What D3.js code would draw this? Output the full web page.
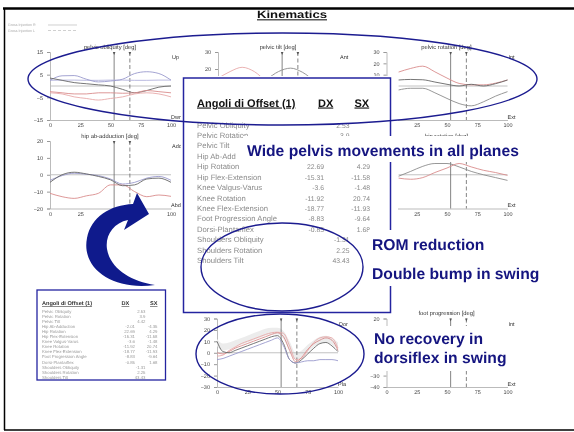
<!DOCTYPE html>
<html><head><meta charset="utf-8">
<script src="https://cdn.jsdelivr.net/npm/d3@7"></script>
<style>
html,body{margin:0;padding:0;background:#fff;}
svg{display:block;font-family:"Liberation Sans",Arial,Helvetica,sans-serif;will-change:transform;opacity:0.999;text-rendering:geometricPrecision;}
</style></head><body>
<svg id="slide" width="574" height="432"></svg>
<script>
// ---- gait cycle sample points (% of cycle) ----
const cycle = [0,10,20,30,40,50,60,70,80,90,100];
const cycleLate = [10,20,30,40,50,60,70,80,90,100];
const ankleCycle = [0,5,10,15,20,25,30,35,40,45,50,55,60,65,70,75,80,85,90,95,100];
const xTicks = [0,25,50,75,100];
const xTicksRight = [25,50,75,100];
const gaitEvents = [53, 66];

// pelvic obliquity [deg]
const obliqBlue = [2.5,4.5,4.6,3,1.8,2.2,3,5.5,6.3,5.5,2.6];
const obliqFlat = [2.5,2.6,2.6,2.5,2.5,2.6,2.6,2.5,2.5,2.6,2.6];
const obliqDark = [3.5,2.5,1.5,1,0.5,0,-1.5,-3,-2,-0.5,0];
const obliqRed  = [-2.5,-3,-3.5,-3.5,-3,-3,-3.2,-3,-2,-2.5,-3];
const obliqPink = [-3,-3.5,-4.8,-5.5,-6.2,-5.5,-4.8,-3.5,-3,-3.5,-4.8];
const obliqTicks = [15,5,-5,-15];

// pelvic tilt [deg]
const tiltRed  = [14.5,18.5,21,18.5,13,11,10,11,12,13,14];
const tiltGrey = [8,7,9,11,14,18.5,20.5,18,13,10,9];
const tiltTicks = [30,20];

// pelvic rotation [deg]
const rotRed  = [12.3,15.5,17.5,12.5,7,2.3,1,1,2.5,5.3];
const rotDark = [5.3,5.8,5.5,3.5,1.5,0,1.5,0,2,5.3];
const rotLow  = [-3.5,-2,-2,-6,-11,-15.5,-17.5,-14,-9,-5];
const rotTicks = [30,20,10];

// hip ab-adduction [deg]
const abdRed  = [-11,-13,-14,-12.5,-11,-6,-6,-10,-13,-12,-12.8];
const abdBlue = [-3.3,-0.5,0.9,0.3,-0.5,-2.5,-5.5,-4.5,-2,-1,-3.3];
const abdDark = [-4.5,0,1.5,0.5,-1,-3,-6.5,-6,-2.5,-2,-4.5];
const abdTicks = [20,10,0,-10,-20];

// hip rotation [deg]
const hipRotGrey = [-1.3,3,7.5,10,10,7,3,0,-2.5,-5];
const hipRotRed  = [-3,-4,-2.5,2,6,10,7,4,2,-0.5];

// dorsi-plantarflex [deg]
const ankleBandHi = [12,8,9,11,13,15,17,19,21,22,22,19,10,0,2,7,11,14,15,13,9];
const ankleBandLo = [6,2,3,5,7,9,11,13,15,16,16,12,2,-6,-4,1,5,8,9,7,3];
const ankleRedA = [0,-1,1,4,6,8,10,12,14,16,17.5,14,2,-8,-4,3,8,11,13,11,2];
const ankleRedB = [-3,-2,2,5,8,10,12,14,16,17.5,18,17,6,-6,-5,2,9,13,14,13,4];
const ankleDark = [10,1,0,2,4,6,8,10,12,14,15,8,-6,-9,-6,-1,4,8,9,6,1];
const ankleBlue = [-6,-5,-3,-1,1,3,5,7,9,11,13,6,-6,-9,-8,-7,-7,-6,-6,-6,-7];
const ankleTicks = [30,20,10,0,-10,-20,-30];

// foot progression [deg]
const footDark = [-8,-9,-10,-11,-10,-9,-12,-14,-12,-10,-9];
const footRed  = [-12,-13,-12,-11,-11,-10,-8,-9,-10,-11,-12];
const footTicks = [20,-30,-40];

// offset angle table
const offsetLabels = ["Pelvic Obliquity","Pelvic Rotation","Pelvic Tilt","Hip Ab-Adduction","Hip Rotation",
  "Hip Flex-Extension","Knee Valgus-Varus","Knee Rotation","Knee Flex-Extension","Foot Progression Angle",
  "Dorsi-Plantarflex","Shoulders Obliquity","Shoulders Rotation","Shoulders Tilt"];
const offsetDX = ["","","","-2.01","22.69","-15.31","-3.6","-11.92","-18.77","-8.83","-0.85","","",""];
const offsetSX = ["","","","-4.35","4.29","-11.58","-1.48","20.74","-11.93","-9.64","1.68","","",""];
const offsetSingle = ["2.53","3.9","4.42","","","","","","","","","-1.31","2.25","43.43"];

const notes = ["Wide pelvis movements in all planes","ROM reduction","Double bump in swing",
  "No recovery in","dorsiflex in swing"];

// ---- drawing ----
const svg = d3.select("#slide");
const NAVY = "#151580";
const RED = "#d98c8c", PINK = "#e8a9a9", BLUE = "#9a9acd", DARK = "#666", GREY = "#8c8c8c";

svg.append("rect").attr("width",574).attr("height",432).attr("fill","#fff");

// slide frame
svg.append("line").attr("x1",3).attr("x2",574).attr("y1",8.5).attr("y2",8.5).attr("stroke","#000").attr("stroke-width",2.5);
svg.append("line").attr("x1",4.5).attr("x2",4.5).attr("y1",8).attr("y2",430).attr("stroke","#000").attr("stroke-width",1.5);
svg.append("line").attr("x1",4).attr("x2",574).attr("y1",430).attr("y2",430).attr("stroke","#000").attr("stroke-width",1.5);

// slide title
svg.append("text").attr("x",257).attr("y",18.3).attr("font-size",10.5).attr("font-weight","bold")
  .attr("textLength",70).attr("lengthAdjust","spacingAndGlyphs")
  .style("text-decoration","underline").attr("fill","#111").text("Kinematics");

// legend
[["Gross Injection R","none"],["Gross Injection L","3,2"]].forEach((d,i)=>{
  svg.append("text").attr("x",8).attr("y",26+i*5.5).attr("font-size",3.6).attr("fill","#aaa").text(d[0]);
  svg.append("line").attr("x1",48).attr("x2",77).attr("y1",25+i*5.5).attr("y2",25+i*5.5)
    .attr("stroke","#bbb").attr("stroke-width",0.7).attr("stroke-dasharray",d[1]);
});

function drawChart(c){
  const g = svg.append("g");
  const x = d3.scaleLinear().domain([0,100]).range([c.x0, c.x0+121]);
  const y = d3.scaleLinear().domain(c.domain).range([c.bottom, c.top]);
  if (c.title) g.append("text").attr("x",c.x0+60).attr("y",c.top-3.5).attr("text-anchor","middle")
    .attr("font-size",5.8).attr("fill","#333").text(c.title);

  const ya = g.append("g").attr("transform",`translate(${c.x0},0)`)
    .call(d3.axisLeft(y).tickValues(c.yTicks).tickSize(3).tickPadding(4));
  const xa = g.append("g").attr("transform",`translate(0,${c.bottom})`)
    .call(d3.axisBottom(x).tickValues(c.xTicks).tickSize(0).tickPadding(3.5));
  [ya,xa].forEach(a=>{
    a.select(".domain").attr("stroke","#aaa").attr("stroke-width",0.8);
    a.selectAll(".tick line").attr("stroke","#999");
    a.selectAll(".tick text").attr("font-size",5.5).attr("fill","#444")
      .style("font-family",'"Liberation Sans",Arial,sans-serif');
  });

  if (c.band){
    g.append("path").datum(c.band.xs.map((v,i)=>[v,c.band.lo[i],c.band.hi[i]]))
      .attr("fill","#ececec")
      .attr("d",d3.area().x(d=>x(d[0])).y0(d=>y(d[1])).y1(d=>y(d[2])).curve(d3.curveMonotoneX));
  }
  // zero reference
  g.append("line").attr("x1",x(c.zeroFrom||0)).attr("x2",x(100)).attr("y1",y(0)).attr("y2",y(0))
    .attr("stroke","#bbb").attr("stroke-width",0.9);

  // gait events (toe-off)
  gaitEvents.forEach((e,i)=>{
    g.append("line").attr("x1",x(e)).attr("x2",x(e)).attr("y1",c.top).attr("y2",c.bottom)
      .attr("stroke","#666").attr("stroke-width",0.8).attr("stroke-dasharray",i?"4,2.5":null);
    g.append("path").attr("d",`M${x(e)-1.3},${c.top} L${x(e)+1.3},${c.top} L${x(e)},${c.top+3} Z`).attr("fill","#555");
  });

  const line = d3.line().curve(d3.curveMonotoneX);
  c.series.forEach(s=>{
    g.append("path").attr("fill","none").attr("stroke",s.color).attr("stroke-width",s.w||0.9)
      .attr("d",line(s.xs.map((v,i)=>[x(v),y(s.ys[i])])));
  });

  g.append("text").attr("x",c.x0+122).attr("y",c.top+7).attr("font-size",5.5).attr("fill","#333").text(c.hi);
  g.append("text").attr("x",c.x0+121).attr("y",c.bottom-1.5).attr("font-size",5.5).attr("fill","#333").text(c.lo);
}

const COL = [50, 218, 386.5];
const ROW1 = {top:52, bottom:120}, ROW2 = {top:141, bottom:208.5}, ROW4 = {top:318.5, bottom:387};

drawChart({x0:COL[0], ...ROW1, domain:[-15,15], yTicks:obliqTicks, xTicks:xTicks, title:"pelvic obliquity [deg]", hi:"Up", lo:"Dwn",
  series:[{xs:cycle,ys:obliqFlat,color:"#b3b3dd"},{xs:cycle,ys:obliqBlue,color:BLUE},{xs:cycle,ys:obliqDark,color:DARK},
          {xs:cycle,ys:obliqRed,color:RED},{xs:cycle,ys:obliqPink,color:PINK}]});
drawChart({x0:COL[1], ...ROW1, domain:[-10,30], yTicks:tiltTicks, xTicks:[], title:"pelvic tilt [deg]", hi:"Ant", lo:"",
  series:[{xs:cycle,ys:tiltRed,color:PINK},{xs:cycle,ys:tiltGrey,color:GREY}]});
drawChart({x0:COL[2], ...ROW1, domain:[-30,30], yTicks:rotTicks, xTicks:xTicksRight, title:"pelvic rotation [deg]", hi:"Int", lo:"Ext", zeroFrom:10,
  series:[{xs:cycleLate,ys:rotRed,color:RED},{xs:cycleLate,ys:rotDark,color:DARK},{xs:cycleLate,ys:rotLow,color:GREY}]});
drawChart({x0:COL[0], ...ROW2, domain:[-20,20], yTicks:abdTicks, xTicks:xTicks, title:"hip ab-adduction [deg]", hi:"Add", lo:"Abd",
  series:[{xs:cycle,ys:abdRed,color:RED},{xs:cycle,ys:abdBlue,color:BLUE},{xs:cycle,ys:abdDark,color:DARK}]});
drawChart({x0:COL[2], ...ROW2, domain:[-30,30], yTicks:[], xTicks:xTicksRight, title:"hip rotation [deg]", hi:"", lo:"Ext", zeroFrom:10,
  series:[{xs:cycleLate,ys:hipRotGrey,color:GREY},{xs:cycleLate,ys:hipRotRed,color:RED}]});
drawChart({x0:217, ...ROW4, domain:[-30,30], yTicks:ankleTicks, xTicks:xTicks, title:"", hi:"Dor", lo:"Pla",
  band:{xs:ankleCycle,lo:ankleBandLo,hi:ankleBandHi},
  series:[{xs:ankleCycle,ys:ankleRedB,color:PINK},{xs:ankleCycle,ys:ankleRedA,color:RED},
          {xs:ankleCycle,ys:ankleDark,color:DARK},{xs:ankleCycle,ys:ankleBlue,color:BLUE}]});
drawChart({x0:COL[2], ...ROW4, domain:[-40,20], yTicks:footTicks, xTicks:xTicks, title:"foot progression [deg]", hi:"Int", lo:"Ext",
  series:[{xs:cycle,ys:footDark,color:DARK},{xs:cycle,ys:footRed,color:RED}]});

// ---- offset angle table ----
svg.append("rect").attr("x",181).attr("y",76).attr("width",217).attr("height",238).attr("fill","#fff");
svg.append("rect").attr("x",183.5).attr("y",78).attr("width",207).attr("height",234.5)
  .attr("fill","#fff").attr("stroke","#2424a0").attr("stroke-width",1.5);
const hdr = svg.append("g").attr("font-weight","bold").attr("font-size",11).attr("fill","#111")
  .style("text-decoration","underline");
hdr.append("text").attr("x",197).attr("y",106.5).text("Angoli di Offset (1)");
hdr.append("text").attr("x",318).attr("y",106.5).text("DX");
hdr.append("text").attr("x",354.5).attr("y",106.5).text("SX");
// rows whose right part lies under the "Wide pelvis" note
const underNote = new Set([2,3]);
offsetLabels.forEach((lab,i)=>{
  const yy = 125 + i*10.42 + 2.6;
  svg.append("text").attr("x",197).attr("y",yy).attr("font-size",7.7).attr("fill","#8a8a8a")
    .text(i===3 ? "Hip Ab-Add" : lab);
  if (underNote.has(i)) return;
  [[offsetDX[i],324],[offsetSX[i],370],[offsetSingle[i],349.5]].forEach(([v,xr])=>{
    if (v) svg.append("text").attr("x",xr).attr("y",yy).attr("text-anchor","end")
      .attr("font-size",6.8).attr("fill","#8a8a8a").text(v);
  });
});

// small copy of the table
svg.append("rect").attr("x",37).attr("y",290).attr("width",128.5).attr("height",90)
  .attr("fill","#fff").attr("stroke","#2424a0").attr("stroke-width",1.3);
const sh = svg.append("g").attr("font-weight","bold").attr("font-size",5.6).attr("fill","#333")
  .style("text-decoration","underline");
sh.append("text").attr("x",42).attr("y",305).text("Angoli di Offset (1)");
sh.append("text").attr("x",121.5).attr("y",305).text("DX");
sh.append("text").attr("x",150).attr("y",305).text("SX");
offsetLabels.forEach((lab,i)=>{
  const yy = 311.7 + i*5.02 + 1.6;
  svg.append("text").attr("x",42).attr("y",yy).attr("font-size",4.3).attr("fill","#999").text(lab);
  [[offsetDX[i],135],[offsetSX[i],157.5],[offsetSingle[i],145.5]].forEach(([v,xr])=>{
    if (v) svg.append("text").attr("x",xr).attr("y",yy).attr("text-anchor","end")
      .attr("font-size",4.3).attr("fill","#999").text(v);
  });
});

// ---- annotations ----
function note(x, y, w, h, lines, baselines){
  svg.append("rect").attr("x",x).attr("y",y).attr("width",w).attr("height",h).attr("fill","#fff");
  lines.forEach((t,i)=>svg.append("text").attr("x",x+4).attr("y",baselines[i])
    .attr("font-size",15.7).attr("font-weight","bold").attr("fill",NAVY).text(t));
}
note(243, 136, 284, 26, [notes[0]], [155.5]);
note(368, 230, 178, 56, [notes[1], notes[2]], [250, 278.5]);
note(370, 326, 148, 45, [notes[3], notes[4]], [344, 363]);

// curved arrow pointing toward the table
svg.append("path")
  .attr("d","M155,285 C112,291 81,268 87,238 C91,217 110,205 133,204 L137,193 L149,214 L124,230 L128,220 " +
            "C113,223 105,236 107,249 C110,268 130,281 155,285 Z")
  .attr("fill","#0f1a8c");

// highlight ellipses
[[282.5,79,254.5,46],[282,267,81,44],[280,354,84,40]].forEach(([cx,cy,rx,ry])=>{
  svg.append("ellipse").attr("cx",cx).attr("cy",cy).attr("rx",rx).attr("ry",ry)
    .attr("fill","none").attr("stroke","#1c1c90").attr("stroke-width",1.4);
});
</script>
</body></html>
